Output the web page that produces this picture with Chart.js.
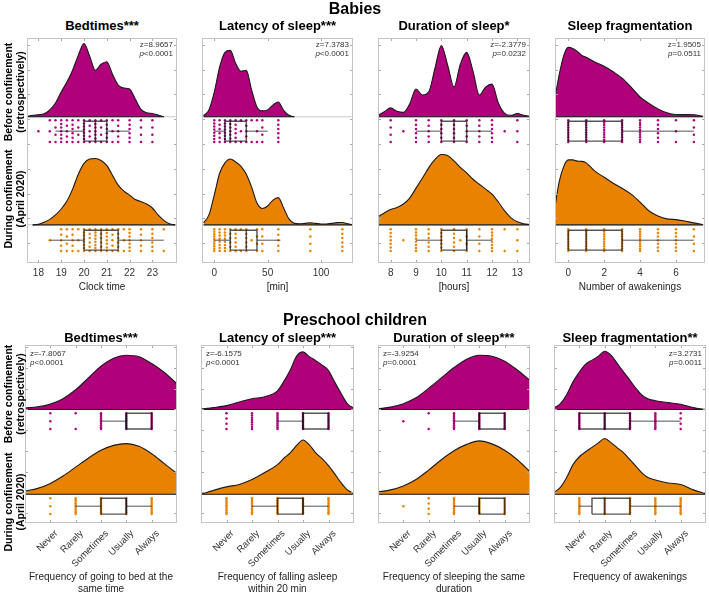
<!DOCTYPE html>
<html>
<head>
<meta charset="utf-8">
<title>Sleep before and during confinement</title>
<script src="https://cdn.jsdelivr.net/npm/chart.js@4.4.1/dist/chart.umd.min.js"></script>
<style>
  body { margin: 0; width: 709px; height: 595px; position: relative; overflow: hidden; background: #fff; font-family: "Liberation Sans", Arial, sans-serif; color: #000; }
  canvas { position: absolute; }
  .lbl { position: absolute; white-space: nowrap; }
  .sec { font-weight: bold; font-size: 16px; transform: translate(-50%, -50%); }
  .ttl { font-weight: bold; font-size: 13px; transform: translate(-50%, -50%); }
  .grp { font-weight: bold; font-size: 10.5px; line-height: 12px; text-align: center; transform: translate(-50%, -50%) rotate(-90deg); }
  .st { font-size: 8px; line-height: 9px; color: #333; }
</style>
</head>
<body>
<script>
'use strict'

const magenta = '#b0007a'
const orange = '#e98200'

// ---- Babies: density curves (x grid, height) ----
const babyBedBeforeX = [17.5, 17.75, 18, 18.25, 18.5, 18.75, 19, 19.25, 19.5, 19.75, 20, 20.25, 20.5, 20.75, 21, 21.25, 21.5, 21.75, 22, 22.25, 22.5, 22.75, 23, 23.25, 23.5]
const babyBedBefore = [0.3, 1.5, 2, 3, 7, 14, 25, 35, 47, 62, 74, 61, 47, 53, 55.5, 43, 32, 29, 28, 18, 7.5, 4, 3.3, 1.7, 0]
const babyBedDuringX = [17.75, 18, 18.25, 18.5, 18.75, 19, 19.25, 19.5, 19.75, 20, 20.25, 20.5, 20.75, 21, 21.25, 21.5, 21.75, 22, 22.25, 22.5, 22.75, 23, 23.25, 23.5, 23.75, 24]
const babyBedDuring = [0, 0.5, 2.5, 5.5, 10, 16, 24, 36, 51, 62, 66.5, 67, 65, 60, 50, 40, 34, 30, 25.5, 23.5, 21, 17, 10, 4.5, 1, 0]

const babyLatBeforeX = [-10, -5, 0, 5, 10, 15, 20, 25, 30, 35, 40, 45, 50, 55, 60, 65, 70, 75]
const babyLatBefore = [1, 7, 25, 50, 65, 67, 54, 46, 47, 27, 10, 6, 7, 12, 15, 6.5, 1.5, 0]
const babyLatDuringX = [-10, -5, 0, 5, 10, 15, 20, 25, 30, 35, 40, 45, 50, 55, 60, 65, 70, 75, 80, 85, 90, 95, 100, 105, 110, 115, 120, 125, 130]
const babyLatDuring = [2, 10, 30, 52, 62.5, 66.5, 63.5, 59, 51, 38, 22, 16.5, 19, 25, 27.5, 17, 6, 1.5, 1, 1.5, 2, 1.5, 0.8, 0.8, 1.5, 2.2, 2.3, 1, 0]

const babyDurX = [7.5, 7.75, 8, 8.25, 8.5, 8.75, 9, 9.25, 9.5, 9.75, 10, 10.25, 10.5, 10.75, 11, 11.25, 11.5, 11.75, 12, 12.25, 12.5, 12.75, 13, 13.25, 13.5]
const babyDurBefore = [1.5, 5, 9, 5.5, 4.5, 13, 28, 22, 25, 49, 72, 52, 30, 53, 65, 46, 22, 30, 33, 14, 3.5, 1.5, 3.3, 1.5, 0.5]
const babyDurDuring = [8, 12, 15.5, 17.5, 21, 27, 37, 47, 57.5, 66, 71, 70, 64.5, 58, 52.5, 46, 41, 36, 31, 23, 14, 7, 3, 1, 0.3]

const babyFragX = [-0.75, -0.5, -0.25, 0, 0.25, 0.5, 0.75, 1, 1.5, 2, 2.5, 3, 3.5, 4, 4.5, 5, 5.5, 6, 6.5, 7, 7.5]
const babyFragBefore = [18, 43, 62, 70, 69, 66, 62, 60, 55, 51, 45.5, 39, 30, 20, 13.5, 8, 4, 2.3, 2.2, 2, 0.5]
const babyFragDuring = [17, 44, 59, 65.5, 65.5, 64.3, 64, 62.5, 54, 48, 42, 37, 31, 23, 14, 9, 6, 5.3, 3.8, 2, 0.3]

// box plots: [whisker low, Q1, median, Q3, whisker high]
const babyBedBoxBefore = [18.75, 20, 20.5, 21, 22]
const babyBedBoxDuring = [18.5, 20, 20.75, 21.5, 23.5]
const babyLatBoxBefore = [0, 10, 15, 30, 50]
const babyLatBoxDuring = [0, 15, 30, 40, 62]
const babyDurBoxBefore = [9, 10, 10.5, 11, 12]
const babyDurBoxDuring = [9, 10, 11, 11, 12]
const babyFragBoxBefore = [0, 0, 1, 3, 7]
const babyFragBoxDuring = [0, 0, 1, 3, 7]

// raw answers: [value, number of children]
const babyBedDotsBefore = [[18, 1], [18.5, 3], [18.75, 4], [19, 7], [19.25, 5], [19.5, 6], [19.75, 4], [20, 8], [20.25, 5], [20.5, 7], [20.75, 4], [21, 6], [21.25, 3], [21.5, 5], [22, 6], [22.5, 4], [23, 4]]
const babyBedDotsDuring = [[18.5, 1], [19, 5], [19.25, 4], [19.5, 5], [19.75, 3], [20, 8], [20.25, 6], [20.5, 8], [20.75, 6], [21, 7], [21.25, 5], [21.5, 6], [21.75, 3], [22, 7], [22.5, 5], [23, 6], [23.5, 2]]
const babyLatDotsBefore = [[0, 8], [5, 6], [10, 8], [15, 7], [20, 6], [25, 3], [30, 5], [35, 2], [40, 3], [45, 4], [60, 6]]
const babyLatDotsDuring = [[0, 10], [5, 8], [10, 8], [15, 6], [20, 6], [25, 2], [30, 6], [35, 1], [40, 4], [45, 4], [60, 5], [90, 4], [120, 6]]
const babyDurDotsBefore = [[8, 4], [8.5, 1], [9, 6], [9.5, 5], [10, 6], [10.5, 6], [11, 5], [11.5, 5], [12, 6], [12.5, 1], [13, 3]]
const babyDurDotsDuring = [[8, 7], [8.5, 1], [9, 8], [9.5, 6], [10, 7], [10.5, 6], [10.75, 1], [11, 4], [11.5, 4], [12, 8], [12.5, 2], [13, 3]]
const babyFragDotsBefore = [[0, 10], [1, 10], [2, 10], [3, 10], [4, 10], [5, 6], [6, 3], [7, 4]]
const babyFragDotsDuring = [[0, 10], [1, 10], [2, 10], [3, 10], [4, 10], [5, 7], [6, 7], [7, 4]]

// ---- Preschool children (1 = Never ... 5 = Always) ----
const freqLabels = ['Never', 'Rarely', 'Sometimes', 'Usually', 'Always']
const freqTicks = [1, 2, 3, 4, 5]

const preX = [0, 0.5, 1, 1.5, 2, 2.5, 3, 3.5, 4, 4.5, 5, 5.5, 6]
const preBedBefore = [1.7, 2.8, 5.5, 11, 20, 32, 44, 52, 55, 53.5, 46.5, 37.5, 26]
const preBedDuring = [3.3, 6, 11, 18.5, 27.5, 36.5, 44.5, 49.5, 51.3, 48.5, 41, 31, 21]
const preLatX = [0, 0.5, 1, 1.5, 2, 2.5, 3, 3.25, 3.5, 3.75, 4, 4.25, 4.5, 4.75, 5, 5.25, 5.5, 5.75, 6]
const preLatBefore = [0.7, 2, 4, 7.7, 11, 13, 19, 28.5, 40, 54, 58.3, 53.5, 49.5, 45, 39.5, 27.5, 16, 5.5, 1.7]
const preLatDuring = [0, 4, 7.5, 10, 15, 22, 30, 36.5, 42, 49.5, 55, 50, 42, 36, 29, 20.5, 11.5, 4.3, 1]
const preDurBefore = [0.7, 2.5, 6, 12, 21.5, 32, 42.5, 51, 55, 54, 49, 40, 29.5]
const preDurDuring = [2.3, 4.5, 8.5, 15, 24.5, 35, 44, 50.5, 54, 51, 44.5, 35, 23]
const preFragX = [0, 0.25, 0.5, 0.75, 1, 1.25, 1.5, 1.75, 2, 2.25, 2.5, 2.75, 3, 3.25, 3.5, 3.75, 4, 4.5, 5, 5.5, 6]
const preFragBefore = [1.5, 6, 15, 28, 38, 46, 50, 54, 59, 55, 46.5, 38, 29.5, 21, 14, 10.5, 9, 7, 5.3, 2, 0]
const preFragDuring = [2, 7, 17, 30, 38, 43, 47.5, 52, 56.5, 52.3, 47, 42, 35, 28, 21, 16.5, 14.5, 11.5, 10, 4.5, 0.5]

const preBedBoxBefore = [3, 4, 4, 5, 5]
const preBedBoxDuring = [2, 3, 4, 4, 5]
const preLatBoxBefore = [3, 4, 4, 5, 5]
const preLatBoxDuring = [2, 3, 4, 4, 5]
const preDurBoxBefore = [3, 4, 4, 5, 5]
const preDurBoxDuring = [3, 4, 4, 5, 5]
const preFragBoxBefore = [1, 1, 2, 3, 5]
const preFragBoxDuring = [1, 1.5, 2, 3, 5]

const preBedDotsBefore = [[1, 3], [2, 2], [3, 10], [4, 10], [5, 10]]
const preBedDotsDuring = [[1, 3], [2, 10], [3, 10], [4, 10], [5, 10]]
const preLatDotsBefore = [[1, 4], [2, 8], [3, 10], [4, 10], [5, 10]]
const preLatDotsDuring = [[1, 10], [2, 10], [3, 10], [4, 10], [5, 10]]
const preDurDotsBefore = [[1, 1], [2, 2], [3, 10], [4, 10], [5, 10]]
const preDurDotsDuring = [[1, 1], [2, 4], [3, 10], [4, 10], [5, 10]]
const preFragDotsBefore = [[1, 10], [2, 10], [3, 10], [4, 10], [5, 4]]
const preFragDotsDuring = [[1, 10], [2, 10], [3, 10], [4, 10], [5, 10]]

// Wilcoxon tests
const babyStats = [['z=8.9657', '<0.0001'], ['z=7.3783', '<0.0001'], ['z=-2.3779', '=0.0232'], ['z=1.9505', '=0.0511']]
const preStats = [['z=-7.8067', '<0.0001'], ['z=-6.1575', '<0.0001'], ['z=-3.9254', '=0.0001'], ['z=3.2731', '=0.0011']]

Chart.defaults.font.family = '"Liberation Sans", Arial, sans-serif'
Chart.defaults.color = '#333'

// frame around the plot area + inward tick marks
const framePlugin = {
  id: 'frame',
  afterDraw (chart, args, opts) {
    const { ctx, chartArea: a, scales } = chart
    ctx.save()
    ctx.lineWidth = 1
    ctx.strokeStyle = '#a8a8a8'
    const line = (x1, y1, x2, y2) => { ctx.beginPath(); ctx.moveTo(x1, y1); ctx.lineTo(x2, y2); ctx.stroke() }
    scales.x.ticks.forEach(t => {
      const px = Math.round(scales.x.getPixelForValue(t.value)) + 0.5
      line(px, a.bottom, px, a.bottom - 3)
      line(px, a.top, px, a.top + 3)
    })
    opts.yTicks.forEach(v => {
      const py = Math.round(scales.y.getPixelForValue(v)) + 0.5
      line(a.left, py, a.left + 3, py)
      line(a.right, py, a.right - 3, py)
    })
    ctx.strokeStyle = '#c4c4c4'
    ctx.strokeRect(a.left + 0.5, a.top + 0.5, a.width - 1, a.height - 1)
    ctx.restore()
  }
}

function densityDs (xs, hs, base, color) {
  return {
    type: 'line',
    data: xs.map((x, i) => ({ x, y: base + hs[i] })),
    borderColor: '#1a1a1a',
    borderWidth: 1.1,
    backgroundColor: color,
    fill: { value: base },
    pointRadius: 0,
    tension: 0.4,
    cubicInterpolationMode: 'monotone',
    order: 3
  }
}

function segDs (pts, width, color, order) {
  return { type: 'scatter', data: pts, showLine: true, borderColor: color, borderWidth: width, pointRadius: 0, fill: false, order }
}

function boxDs (b, c, hh) {
  const [lo, q1, md, q3, hi] = b
  const edge = 'rgba(20,20,20,0.72)'
  return [
    segDs([{ x: lo, y: c }, { x: q1, y: c }], 1, 'rgba(40,40,40,0.8)', 0),
    segDs([{ x: q3, y: c }, { x: hi, y: c }], 1, 'rgba(40,40,40,0.8)', 0),
    segDs([{ x: q1, y: c - hh }, { x: q3, y: c - hh }, { x: q3, y: c + hh }, { x: q1, y: c + hh }, { x: q1, y: c - hh }], 1.4, edge, 0),
    segDs([{ x: md, y: c - hh }, { x: md, y: c + hh }], 1.4, edge, 0)
  ]
}

function dotsDs (list, c, spread, color) {
  const pts = []
  list.forEach(([v, n]) => {
    for (let i = 0; i < n; i++) {
      const t = n === 1 ? 0 : i / (n - 1) * 2 - 1
      pts.push({ x: v, y: c + t * spread })
    }
  })
  return { type: 'scatter', data: pts, pointRadius: 1.25, pointBackgroundColor: color, pointBorderWidth: 0, pointBorderColor: color, order: 1 }
}

function addText (cls, html, x, y, style) {
  const d = document.createElement('div')
  d.className = 'lbl ' + cls
  d.innerHTML = html
  d.style.left = x + 'px'
  d.style.top = y + 'px'
  if (style) Object.assign(d.style, style)
  document.body.appendChild(d)
}

function panel (p) {
  const padL = 12, padR = 12, padT = 2
  const cv = document.createElement('canvas')
  cv.width = p.w + padL + padR
  cv.height = padT + p.h + p.axisH
  cv.style.left = (p.left - padL) + 'px'
  cv.style.top = (p.top - padT) + 'px'
  document.body.appendChild(cv)

  const L = p.lay
  const datasets = [
    segDs([{ x: p.min, y: L.magBase }, { x: p.max, y: L.magBase }], 1, '#c8c8c8', 5),
    segDs([{ x: p.min, y: L.oraBase }, { x: p.max, y: L.oraBase }], 1, '#c8c8c8', 5),
    densityDs(p.before[0], p.before[1], L.magBase, magenta),
    densityDs(p.during[0], p.during[1], L.oraBase, orange),
    segDs([{ x: p.before[0][0], y: L.magBase }, { x: p.before[0][p.before[0].length - 1], y: L.magBase }], 1.1, '#1a1a1a', 2),
    segDs([{ x: p.during[0][0], y: L.oraBase }, { x: p.during[0][p.during[0].length - 1], y: L.oraBase }], 1.1, '#1a1a1a', 2),
    dotsDs(p.dotsBefore, L.magBox, L.spread, magenta),
    dotsDs(p.dotsDuring, L.oraBox, L.spread, orange),
    ...boxDs(p.boxBefore, L.magBox, L.half),
    ...boxDs(p.boxDuring, L.oraBox, L.half)
  ]
  const lines = Array.isArray(p.title) ? p.title.length : 1

  new Chart(cv, {
    type: 'line',
    data: { datasets },
    options: {
      responsive: false,
      animation: false,
      events: [],
      layout: { padding: { left: padL, right: padR, top: padT, bottom: 0 } },
      plugins: { legend: { display: false }, tooltip: { enabled: false }, frame: { yTicks: L.yTicks } },
      scales: {
        x: {
          type: 'linear',
          min: p.min,
          max: p.max,
          grid: { display: false, drawTicks: false },
          border: { display: false },
          afterBuildTicks: axis => { axis.ticks = p.ticks.map(v => ({ value: v })) },
          afterFit: s => { s.height = p.axisH },
          ticks: {
            autoSkip: false,
            padding: p.rot ? 5 : 4,
            labelOffset: p.rot ? 6 : 0,
            color: '#333',
            font: { size: p.rot ? 9.5 : 10 },
            minRotation: p.rot,
            maxRotation: p.rot,
            callback: v => p.labels ? p.labels[p.ticks.indexOf(v)] : String(v)
          },
          title: { display: true, text: p.title, color: '#222', font: { size: 10 }, padding: { top: 0, bottom: p.titlePad + 12 * (p.titleLines - lines) } }
        },
        y: { type: 'linear', display: false, min: 0, max: p.h }
      }
    },
    plugins: [framePlugin]
  })
}

// ---- layout ----
const babyLay = { magBase: 147.5, oraBase: 38.5, magBox: 133, oraBox: 23, half: 10, spread: 11, yTicks: [20, 45, 70, 95, 120, 145, 170, 195, 220] }
const preLay = { magBase: 114.7, oraBase: 29, magBox: 103, oraBox: 17, half: 8, spread: 8, yTicks: [10, 31, 52, 73, 94, 115, 136, 157, 178] }
const babyLeft = [27, 202, 378, 555], babyW = [150, 151, 152, 150]
const preLeft = [25, 201, 378, 554], preW = [152, 153, 152, 152]
const babyTop = 36, babyH = 227, preTop = 343, preH = 180

const babyPanels = [
  { name: 'Bedtimes***', min: 17.5, max: 24.08, ticks: [18, 19, 20, 21, 22, 23], title: 'Clock time',
    before: [babyBedBeforeX, babyBedBefore], during: [babyBedDuringX, babyBedDuring],
    boxBefore: babyBedBoxBefore, boxDuring: babyBedBoxDuring, dotsBefore: babyBedDotsBefore, dotsDuring: babyBedDotsDuring },
  { name: 'Latency of sleep***', min: -11.5, max: 130, ticks: [0, 50, 100], title: '[min]',
    before: [babyLatBeforeX, babyLatBefore], during: [babyLatDuringX, babyLatDuring],
    boxBefore: babyLatBoxBefore, boxDuring: babyLatBoxDuring, dotsBefore: babyLatDotsBefore, dotsDuring: babyLatDotsDuring },
  { name: 'Duration of sleep*', min: 7.5, max: 13.5, ticks: [8, 9, 10, 11, 12, 13], title: '[hours]',
    before: [babyDurX, babyDurBefore], during: [babyDurX, babyDurDuring],
    boxBefore: babyDurBoxBefore, boxDuring: babyDurBoxDuring, dotsBefore: babyDurDotsBefore, dotsDuring: babyDurDotsDuring },
  { name: 'Sleep fragmentation', min: -0.74, max: 7.62, ticks: [0, 2, 4, 6], title: 'Number of awakenings',
    before: [babyFragX, babyFragBefore], during: [babyFragX, babyFragDuring],
    boxBefore: babyFragBoxBefore, boxDuring: babyFragBoxDuring, dotsBefore: babyFragDotsBefore, dotsDuring: babyFragDotsDuring }
]

const prePanels = [
  { name: 'Bedtimes***', title: ['Frequency of going to bed at the', 'same time'],
    before: [preX, preBedBefore], during: [preX, preBedDuring],
    boxBefore: preBedBoxBefore, boxDuring: preBedBoxDuring, dotsBefore: preBedDotsBefore, dotsDuring: preBedDotsDuring },
  { name: 'Latency of sleep***', title: ['Frequency of falling asleep', 'within 20 min'],
    before: [preLatX, preLatBefore], during: [preLatX, preLatDuring],
    boxBefore: preLatBoxBefore, boxDuring: preLatBoxDuring, dotsBefore: preLatDotsBefore, dotsDuring: preLatDotsDuring },
  { name: 'Duration of sleep***', title: ['Frequency of sleeping the same', 'duration'],
    before: [preX, preDurBefore], during: [preX, preDurDuring],
    boxBefore: preDurBoxBefore, boxDuring: preDurBoxDuring, dotsBefore: preDurDotsBefore, dotsDuring: preDurDotsDuring },
  { name: 'Sleep fragmentation**', title: ['Frequency of awakenings'],
    before: [preFragX, preFragBefore], during: [preFragX, preFragDuring],
    boxBefore: preFragBoxBefore, boxDuring: preFragBoxDuring, dotsBefore: preFragDotsBefore, dotsDuring: preFragDotsDuring }
]

babyPanels.forEach((p, i) => {
  panel(Object.assign(p, { left: babyLeft[i], w: babyW[i], top: babyTop, h: babyH, axisH: 36, rot: 0, titlePad: 6, titleLines: 1, lay: babyLay }))
  addText('ttl', p.name, babyLeft[i] + babyW[i] / 2, 25)
  const s = babyStats[i]
  addText('st', s[0] + '<br><i>p</i>' + s[1], babyLeft[i] + babyW[i] - 4, 40, { transform: 'translateX(-100%)', textAlign: 'right' })
})

prePanels.forEach((p, i) => {
  panel(Object.assign(p, { left: preLeft[i], w: preW[i], top: preTop, h: preH, axisH: 72, rot: 45, titlePad: 0, titleLines: 2,
    min: 0, max: 6, ticks: freqTicks, labels: freqLabels, lay: preLay }))
  addText('ttl', p.name, preLeft[i] + preW[i] / 2, 337)
  const s = preStats[i]
  if (i < 3) {
    addText('st', s[0] + '<br><i>p</i>' + s[1], preLeft[i] + 5, 349)
  } else {
    addText('st', s[0] + '<br><i>p</i>' + s[1], preLeft[i] + preW[i] - 4, 349, { transform: 'translateX(-100%)', textAlign: 'right' })
  }
})

addText('sec', 'Babies', 355, 9)
addText('sec', 'Preschool children', 355, 320)
addText('grp', 'Before confinement<br>(retrospectively)', 14, 92)
addText('grp', 'During confinement<br>(April 2020)', 14, 199)
addText('grp', 'Before confinement<br>(retrospectively)', 14, 394)
addText('grp', 'During confinement<br>(April 2020)', 14, 502)
</script>
</body>
</html>
